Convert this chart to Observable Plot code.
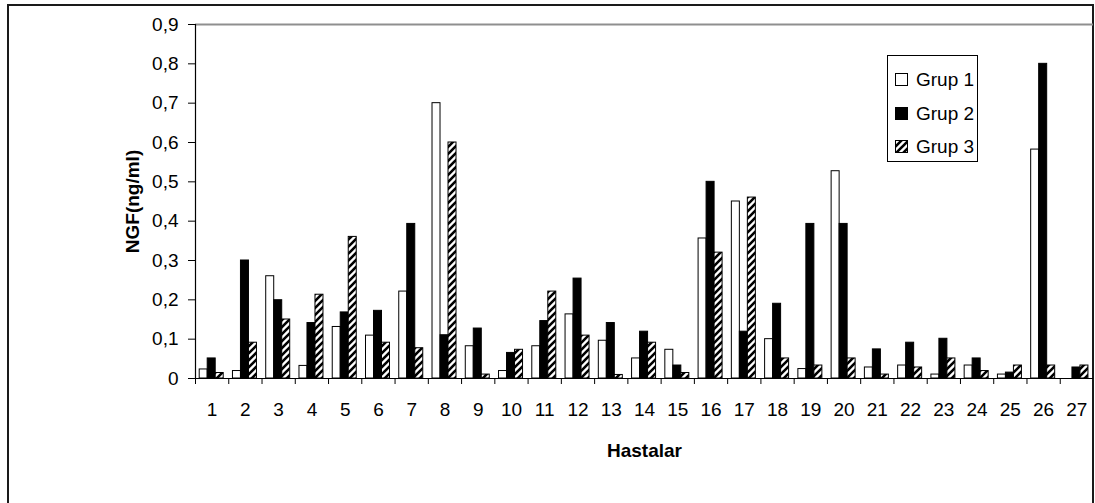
<!DOCTYPE html>
<html>
<head>
<meta charset="utf-8">
<script src="https://cdn.jsdelivr.net/npm/d3@7"></script>
<script src="https://cdn.jsdelivr.net/npm/@observablehq/plot@0.6"></script>
<style>
  html, body { margin: 0; padding: 0; background: #fff; overflow: hidden; }
  #wrap { position: relative; width: 1095px; height: 503px; font-family: "Liberation Sans", Arial, sans-serif; color: #000; }
  #frame { position: absolute; left: 7px; top: 4px; width: 1087px; height: 560px; border: 2px solid #1a1a1a; box-sizing: border-box; }
  #chart { position: absolute; left: 0; top: 0; }
  #defs { position: absolute; width: 0; height: 0; }
  #legend { position: absolute; left: 887px; top: 55px; width: 91px; height: 107px; border: 1px solid #000; box-sizing: border-box; background: #fff; }
  .item { position: absolute; left: 7px; height: 14px; font-size: 19px; line-height: 14px; white-space: nowrap; }
  .item svg { position: absolute; left: 0; top: 0; }
  .item span { position: absolute; left: 21px; top: 0; }
</style>
</head>
<body>
<svg id="defs" aria-hidden="true">
  <defs>
    <pattern id="hatch" patternUnits="userSpaceOnUse" width="7" height="7">
      <rect width="7" height="7" fill="#fff"></rect>
      <path d="M-2,2 L2,-2 M0,7 L7,0 M5,9 L9,5" stroke="#000" stroke-width="2.6"></path>
    </pattern>
  </defs>
</svg>
<div id="wrap">
  <div id="frame"></div>
  <div id="chart"></div>
  <div id="legend"></div>
</div>
<script>
// Patients (Hastalar) and NGF concentration (ng/ml) for each group
const patients = ["1","2","3","4","5","6","7","8","9","10","11","12","13","14","15","16","17","18","19","20","21","22","23","24","25","26","27"];
const grup1 = [0.023,0.019,0.26,0.032,0.131,0.109,0.221,0.70,0.082,0.019,0.082,0.163,0.096,0.051,0.073,0.356,0.45,0.10,0.024,0.527,0.028,0.033,0.01,0.033,0.01,0.582,0];
const grup2 = [0.051,0.30,0.199,0.141,0.168,0.172,0.393,0.11,0.127,0.065,0.146,0.254,0.141,0.119,0.033,0.50,0.119,0.19,0.393,0.393,0.074,0.091,0.101,0.051,0.015,0.80,0.028];
const grup3 = [0.014,0.091,0.15,0.213,0.36,0.091,0.077,0.60,0.01,0.073,0.221,0.109,0.009,0.091,0.014,0.32,0.46,0.051,0.033,0.051,0.01,0.028,0.051,0.019,0.033,0.033,0.033];
const groups = ["Grup 1", "Grup 2", "Grup 3"];
const groupFills = ["#fff", "#000", "url(#hatch)"];
const yTicks = [0, 0.1, 0.2, 0.3, 0.4, 0.5, 0.6, 0.7, 0.8, 0.9];
const yTickLabels = ["0", "0,1", "0,2", "0,3", "0,4", "0,5", "0,6", "0,7", "0,8", "0,9"];

const series = [grup1, grup2, grup3];
const data = patients.flatMap((p, i) => groups.map((g, k) => ({patient: p, group: g, value: series[k][i]})));

const W = 1095, H = 503, mL = 195, mR = 2, mT = 24, mB = 125;
const bw = (W - mL - mR) / patients.length;   // width of one patient band
const barW = 8, lead = 4.2;                    // bar width and gap before the first bar

const bars = groups.map((g, k) => Plot.barY(
  data.filter(d => d.group === g && d.value > 0),
  {
    x: "patient", y: "value",
    fill: groupFills[k], stroke: "#000", strokeWidth: 1,
    insetLeft: lead + k * barW,
    insetRight: bw - lead - (k + 1) * barW
  }
));

const chart = Plot.plot({
  width: W, height: H,
  marginLeft: mL, marginRight: mR, marginTop: mT, marginBottom: mB,
  style: {fontFamily: "'Liberation Sans', Arial, sans-serif", fontSize: "19px", color: "#000", background: "transparent"},
  x: {type: "band", domain: patients, padding: 0, round: false},
  y: {domain: [0, 0.9]},
  marks: [
    Plot.ruleY([0.9], {stroke: "#8f8f8f", strokeWidth: 2}),
    ...bars,
    Plot.ruleY([0], {stroke: "#000", strokeWidth: 1.2}),
    // value axis line
    Plot.ruleX([patients[0]], {x: d => d, dx: -bw / 2, y1: 0, y2: 0.9, stroke: "#000", strokeWidth: 1.2}),
    // category tick marks between patients
    Plot.ruleX(patients, {x: d => d, dx: -bw / 2, y1: 0, y2: 0, insetBottom: -6, stroke: "#000", strokeWidth: 1}),
    Plot.axisX({tickSize: 0, tickPadding: 24, label: null}),
    Plot.axisY({ticks: yTicks, tickFormat: d => yTickLabels[yTicks.indexOf(d)], tickSize: 7, tickPadding: 10, label: null, stroke: "#000"}),
    Plot.text(["NGF(ng/ml)"], {text: d => d, frameAnchor: "left", textAnchor: "middle", lineAnchor: "middle", dx: -63, rotate: -90, fontWeight: "bold", fontSize: 19}),
    Plot.text(["Hastalar"], {text: d => d, frameAnchor: "bottom", textAnchor: "middle", lineAnchor: "middle", dy: 72, fontWeight: "bold", fontSize: 19})
  ]
});
document.getElementById("chart").appendChild(chart);

// legend
const legend = document.getElementById("legend");
const itemTops = [17, 51, 84];
groups.forEach((g, k) => {
  const item = document.createElement("div");
  item.className = "item";
  item.style.top = itemTops[k] + "px";
  item.innerHTML = `<svg width="13" height="13"><rect x="0.5" y="0.5" width="12" height="12" fill="${groupFills[k]}" stroke="#000" stroke-width="1"></rect></svg><span>${g}</span>`;
  legend.appendChild(item);
});
</script>
</body>
</html>
